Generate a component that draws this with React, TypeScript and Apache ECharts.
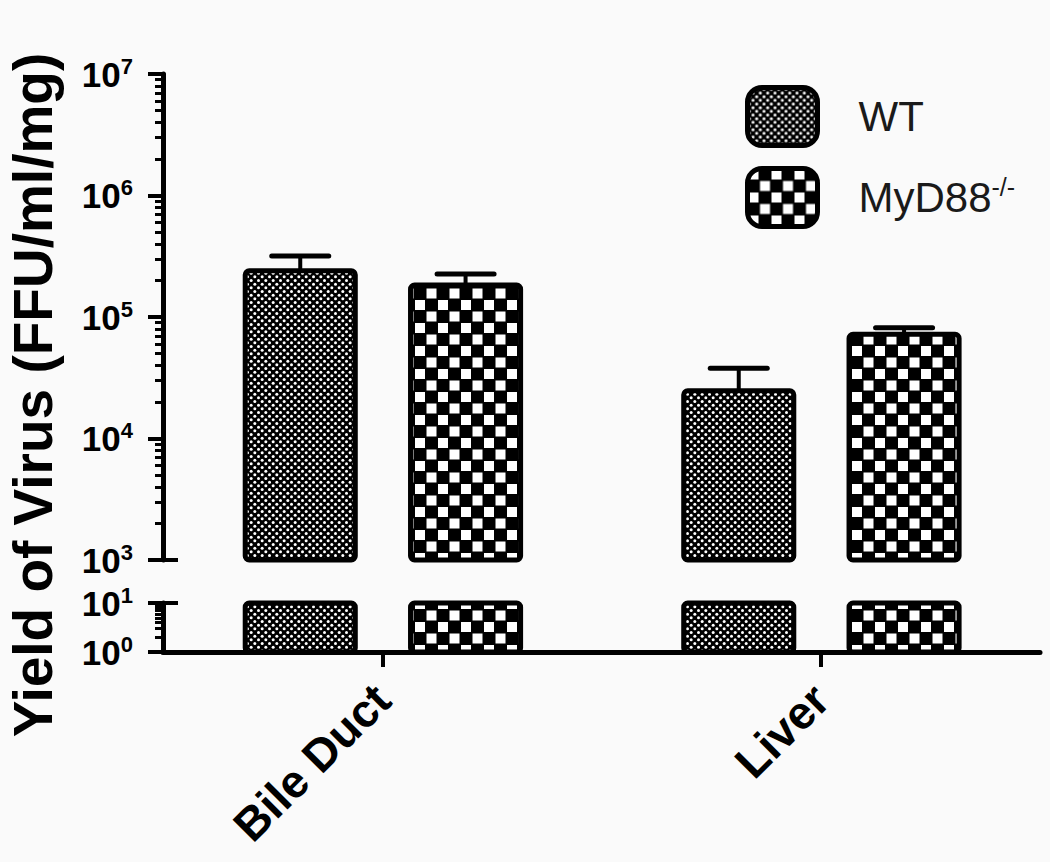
import React, { useEffect, useRef } from 'react';
import * as echarts from 'echarts';

// ---- data ----
const categories = ['Bile Duct', 'Liver'];
const seriesNames = ['WT', 'MyD88-/-'];
const wtMean = [2.4e5, 2.47e4];
const wtSem = [0.78e5, 1.31e4];
const koMean = [1.83e5, 7.2e4];
const koSem = [0.43e5, 0.95e4];
const yTitle = 'Yield of Virus (FFU/ml/mg)';

// broken log axis segments
const UPPER_MIN = 1e3;
const UPPER_MAX = 1e7;
const LOWER_MIN = 1;
const LOWER_MAX = 10;

const FONT = "'Liberation Sans', Arial, Helvetica, sans-serif";

function minorTicks(fromExp: number, toExp: number): number[] {
  const out: number[] = [];
  for (let e = fromExp; e < toExp; e++) {
    for (let m = 2; m <= 9; m++) out.push(m * Math.pow(10, e));
  }
  return out;
}

function makeDotPattern() {
  const s = 22;
  const c = document.createElement('canvas');
  c.width = s;
  c.height = s;
  const g = c.getContext('2d')!;
  g.fillStyle = '#000';
  g.fillRect(0, 0, s, s);
  g.fillStyle = '#fff';
  const p = s / 3;
  const dot = (x: number, y: number) => {
    g.beginPath();
    g.arc(x, y, 1.5, 0, Math.PI * 2);
    g.fill();
  };
  for (let i = 0; i < 3; i++) {
    for (let j = 0; j < 3; j++) {
      dot(i * p + p * 0.25, j * p + p * 0.25);
      dot(i * p + p * 0.75, j * p + p * 0.75);
    }
  }
  return { image: c, repeat: 'repeat', imageWidth: s, imageHeight: s } as any;
}

function makeCheckPattern() {
  const s = 23;
  const c = document.createElement('canvas');
  c.width = s;
  c.height = s;
  const g = c.getContext('2d')!;
  g.fillStyle = '#000';
  g.fillRect(0, 0, s, s);
  g.fillStyle = '#fff';
  g.fillRect(1, 1, 10, 10);
  g.fillRect(12.5, 12.5, 10, 10);
  return { image: c, repeat: 'repeat', imageWidth: s, imageHeight: s } as any;
}

const BAR_FRAC = 0.251;
const CAP_FRAC = 0.13;

function makeRender(segment: 'upper' | 'lower', offset: number, pattern: any) {
  return (params: any, api: any) => {
    const cat = api.value(0) as number;
    const val = api.value(1) as number;
    const sem = api.value(2) as number;
    const baseVal = segment === 'upper' ? UPPER_MIN : LOWER_MIN;
    const band = api.size([1, 0], [cat, baseVal])[0];
    const base = api.coord([cat, baseVal]);
    const cx = base[0] + band * offset;
    const w = band * BAR_FRAC;
    const topVal = segment === 'upper' ? val : Math.min(val, LOWER_MAX);
    const yTop = api.coord([cat, topVal])[1];
    const yBot = base[1];
    const children: any[] = [];
    if (segment === 'upper') {
      const yErr = api.coord([cat, val + sem])[1];
      const cap = band * CAP_FRAC;
      children.push({
        type: 'line',
        shape: { x1: cx, y1: yTop, x2: cx, y2: yErr },
        style: { stroke: '#000', lineWidth: 4 },
      });
      children.push({
        type: 'line',
        shape: { x1: cx - cap / 2, y1: yErr, x2: cx + cap / 2, y2: yErr },
        style: { stroke: '#000', lineWidth: 5, lineCap: 'round' },
      });
    }
    children.push({
      type: 'rect',
      shape: { x: cx - w / 2, y: yTop, width: w, height: yBot - yTop, r: 4 },
      style: { fill: pattern, stroke: '#000', lineWidth: 5 },
    });
    return { type: 'group', children };
  };
}

const supLabel = (v: number) => `{b|10}{s|${Math.round(Math.log10(v))}}`;
const labelRich = {
  b: { fontSize: 35, fontWeight: 'bold', fontFamily: FONT, color: '#000', lineHeight: 38 },
  s: { fontSize: 22, fontWeight: 'bold', fontFamily: FONT, color: '#000', verticalAlign: 'top' },
};

export default function App() {
  const ref = useRef<HTMLDivElement>(null);

  useEffect(() => {
    if (!ref.current) return;
    const chart = echarts.init(ref.current, undefined, { renderer: 'svg' });
    const dots = makeDotPattern();
    const checks = makeCheckPattern();

    const gridLeft = 163;
    const gridWidth = 877;

    const mainY = (gridIndex: number, min: number, max: number) => ({
      type: 'log',
      logBase: 10,
      gridIndex,
      position: 'left',
      offset: 0,
      min,
      max,
      axisLine: { show: true, lineStyle: { color: '#000', width: 5 } },
      axisTick: { show: true, inside: false, length: 15, lineStyle: { color: '#000', width: 4 } },
      axisLabel: { show: true, margin: 30, formatter: supLabel, rich: labelRich },
      splitLine: { show: false },
    });
    const minorY = (gridIndex: number, min: number, max: number, values: number[]) => ({
      type: 'log',
      logBase: 10,
      gridIndex,
      position: 'left',
      offset: 0,
      min,
      max,
      axisLine: { show: false },
      axisTick: { show: true, inside: false, length: 8, customValues: values, lineStyle: { color: '#000', width: 3 } },
      axisLabel: { show: false },
      splitLine: { show: false },
    });
    const breakY = (gridIndex: number, min: number, max: number, values: number[]) => ({
      type: 'log',
      logBase: 10,
      gridIndex,
      position: 'left',
      offset: 0,
      min,
      max,
      axisLine: { show: false },
      axisTick: { show: true, inside: true, length: 15, customValues: values, lineStyle: { color: '#000', width: 4 } },
      axisLabel: { show: false },
      splitLine: { show: false },
    });

    const option: any = {
      animation: false,
      backgroundColor: '#fafafa',
      textStyle: { fontFamily: FONT },
      grid: [
        { left: gridLeft, top: 74, width: gridWidth, height: 486 },
        { left: gridLeft, top: 603, width: gridWidth, height: 49 },
      ],
      xAxis: [
        { type: 'category', gridIndex: 0, data: categories, show: false },
        {
          type: 'category',
          gridIndex: 1,
          data: categories,
          axisLine: { show: true, lineStyle: { color: '#000', width: 5 } },
          axisTick: { show: true, alignWithLabel: true, length: 15, lineStyle: { color: '#000', width: 4 } },
          axisLabel: {
            rotate: 45,
            margin: 40,
            fontSize: 46,
            fontWeight: 'bold',
            fontFamily: FONT,
            color: '#000',
          },
        },
      ],
      yAxis: [
        mainY(0, UPPER_MIN, UPPER_MAX),
        minorY(0, UPPER_MIN, UPPER_MAX, minorTicks(3, 7)),
        breakY(0, UPPER_MIN, UPPER_MAX, [UPPER_MIN]),
        mainY(1, LOWER_MIN, LOWER_MAX),
        minorY(1, LOWER_MIN, LOWER_MAX, minorTicks(0, 1)),
        breakY(1, LOWER_MIN, LOWER_MAX, [LOWER_MAX]),
      ],
      legend: {
        orient: 'vertical',
        left: 740,
        top: 80,
        itemWidth: 70,
        itemHeight: 58,
        itemGap: 18,
        selectedMode: false,
        data: [
          { name: seriesNames[0], icon: 'roundRect', itemStyle: { color: dots, borderColor: '#000', borderWidth: 5 } },
          { name: seriesNames[1], icon: 'roundRect', itemStyle: { color: checks, borderColor: '#000', borderWidth: 5 } },
        ],
        formatter: (name: string) => (name === 'WT' ? '{t|WT}' : '{t|MyD88}{s|-/-}'),
        textStyle: {
          rich: {
            t: { fontSize: 42, color: '#1a1a1a', fontFamily: FONT, padding: [0, 0, 0, 36], lineHeight: 46 },
            s: { fontSize: 25, color: '#1a1a1a', fontFamily: FONT, verticalAlign: 'top' },
          },
        },
      },
      graphic: [
        {
          type: 'text',
          x: 33,
          y: 395,
          rotation: Math.PI / 2,
          style: {
            text: yTitle,
            fontSize: 55,
            fontWeight: 'bold',
            fontFamily: FONT,
            fill: '#000',
            align: 'center',
            verticalAlign: 'middle',
          },
        },
      ],
      series: [
        {
          type: 'custom',
          name: seriesNames[0],
          xAxisIndex: 0,
          yAxisIndex: 0,
          encode: { x: 0, y: 1 },
          data: categories.map((_, i) => [i, wtMean[i], wtSem[i]]),
          renderItem: makeRender('upper', -0.187, dots),
        },
        {
          type: 'custom',
          name: seriesNames[1],
          xAxisIndex: 0,
          yAxisIndex: 0,
          encode: { x: 0, y: 1 },
          data: categories.map((_, i) => [i, koMean[i], koSem[i]]),
          renderItem: makeRender('upper', 0.19, checks),
        },
        {
          type: 'custom',
          name: seriesNames[0],
          xAxisIndex: 1,
          yAxisIndex: 3,
          encode: { x: 0, y: 1 },
          data: categories.map((_, i) => [i, wtMean[i], wtSem[i]]),
          renderItem: makeRender('lower', -0.187, dots),
        },
        {
          type: 'custom',
          name: seriesNames[1],
          xAxisIndex: 1,
          yAxisIndex: 3,
          encode: { x: 0, y: 1 },
          data: categories.map((_, i) => [i, koMean[i], koSem[i]]),
          renderItem: makeRender('lower', 0.19, checks),
        },
      ],
    };

    chart.setOption(option);
    return () => {
      chart.dispose();
    };
  }, []);

  return (
    <div
      ref={ref}
      style={{ position: 'fixed', left: 0, top: 0, width: 1050, height: 862 }}
    />
  );
}
